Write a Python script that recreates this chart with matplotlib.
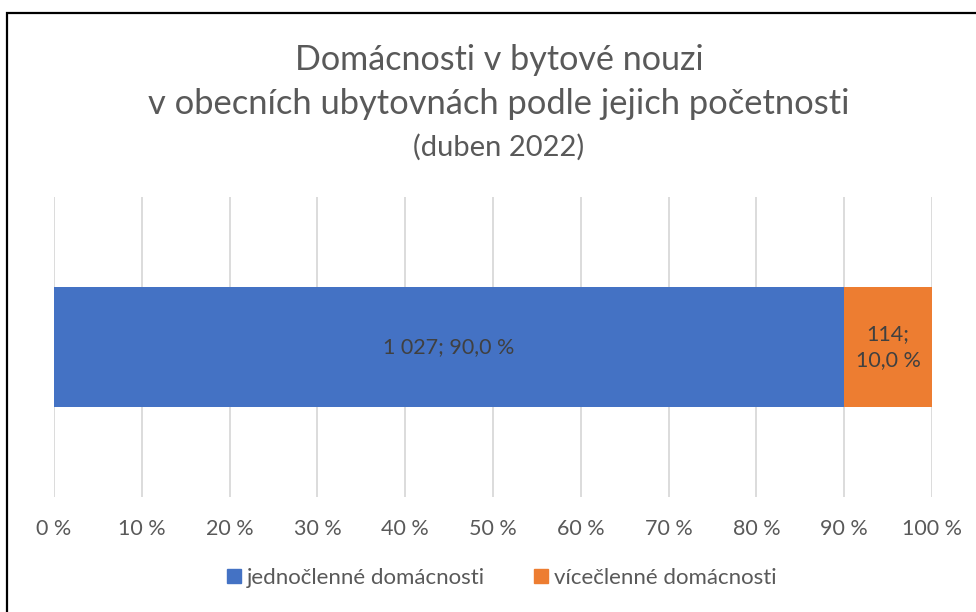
import matplotlib
matplotlib.use("Agg")
import matplotlib.pyplot as plt
from matplotlib.patches import Rectangle, Patch

categories = ["jednočlenné domácnosti", "vícečlenné domácnosti"]
counts = [1027, 114]
shares = [90.0, 10.0]
colors = ["#4472C4", "#ED7D31"]
ticks = [0, 10, 20, 30, 40, 50, 60, 70, 80, 90, 100]
tick_labels = [f"{t} %" for t in ticks]

W, H = 976, 612
plt.rcParams['font.family'] = ['Lato', 'DejaVu Sans']
fig = plt.figure(figsize=(W/100, H/100), dpi=100)

# outer frame (cropped on right and bottom)
fig.patches.append(Rectangle((7/W, -0.1), 1.2, (H-13)/H + 0.1, transform=fig.transFigure,
                             fill=False, edgecolor="black", linewidth=1.6))

ax = fig.add_axes([54/W, 1-497/H, (932-54)/W, 300/H])
left = 0
for cat, c, s, col in zip(categories, counts, shares, colors):
    ax.barh(0, s, left=left, height=0.4, color=col, label=cat, zorder=3)
    lbl = f"{c:,}".replace(",", " ") + "; " + f"{s:.1f}".replace(".", ",") + " %"
    if s < 20:
        lbl = lbl.replace("; ", ";\n")
    ax.text(left + s/2, 0, lbl, ha="center", va="center", fontsize=15.5,
            color="#404040", zorder=4, linespacing=1.4)
    left += s

ax.set_xlim(0, 100)
ax.set_ylim(-0.5, 0.5)
ax.set_xticks(ticks)
ax.set_xticklabels(tick_labels, fontsize=15.5, color="#595959")
ax.tick_params(axis="x", length=0, pad=16)
ax.set_yticks([])
ax.grid(axis="x", color="#D9D9D9", linewidth=1.3, zorder=0)
for sp in ax.spines.values():
    sp.set_visible(False)

cx = 499 / W
fig.text(cx, 1-60/H, "Domácnosti v bytové nouzi", ha="center", va="center",
         fontsize=24.6, color="#595959")
fig.text(cx, 1-104/H, "v obecních ubytovnách podle jejich početnosti", ha="center",
         va="center", fontsize=24.8, color="#595959")
fig.text(cx, 1-147/H, "(duben 2022)", ha="center", va="center",
         fontsize=21, color="#595959")

handles = [Patch(color=col, label=cat) for cat, col in zip(categories, colors)]
fig.legend(handles=handles, loc="center", bbox_to_anchor=(502/W, 1-578/H), ncol=2,
           frameon=False, fontsize=16, labelcolor="#595959", handlelength=0.6,
           handleheight=0.6, handletextpad=0.3, columnspacing=2.2)

fig.savefig("out.png", dpi=100)
